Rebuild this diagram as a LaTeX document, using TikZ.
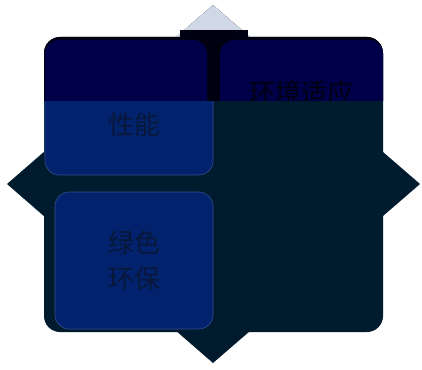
\documentclass[tikz,border=0pt]{standalone}
\usepackage{fontspec}
\newfontfamily\cjk{Noto Sans CJK SC}
\definecolor{bgdark}{HTML}{001A2E}
\definecolor{boxblue}{HTML}{03226E}
\definecolor{txtlow}{HTML}{081838}
\definecolor{lightgray}{HTML}{D0D8E8}
\definecolor{nearblack}{HTML}{000010}
\definecolor{boxnavy}{HTML}{000048}
\tikzset{
  panel/.style={rounded corners=14pt, fill=boxblue, draw=boxblue!80!white, line width=0.6pt},
  lbl/.style={font=\cjk\fontsize{26}{36}\selectfont, align=center, inner sep=0pt},
}
\begin{document}
\begin{tikzpicture}[x=1pt,y=-1pt]
\useasboundingbox (0,0) rectangle (422,369);
% lower (normal) layer
\fill[bgdark] (213,5) -- (420,184) -- (213,363) -- (7,184) -- cycle;
\fill[bgdark, rounded corners=16pt] (44,37) rectangle (383,332);
\path[panel] (45,40) rectangle (213,175);
\path[panel] (55,192) rectangle (213,329);
\node[lbl, text=txtlow] (perf) at (134,125) {性能};
\node[lbl, text=txtlow] (green) at (134,261) {绿色\\[0pt]环保};
% upper band overlay
\begin{scope}
\clip (0,0) rectangle (422,100);
\fill[lightgray] (213,5) -- (420,184) -- (213,363) -- (7,184) -- cycle;
\fill[nearblack] (180,30) rectangle (248,40);
\fill[nearblack, rounded corners=16pt] (44,37) rectangle (383,332);
\fill[boxnavy, rounded corners=14pt] (45,40) rectangle (207,175);
\fill[boxnavy, rounded corners=14pt] (220,40) rectangle (383,175);
\node[lbl, text=nearblack] (env) at (301,93) {环境适应};
\end{scope}
\end{tikzpicture}
\end{document}
